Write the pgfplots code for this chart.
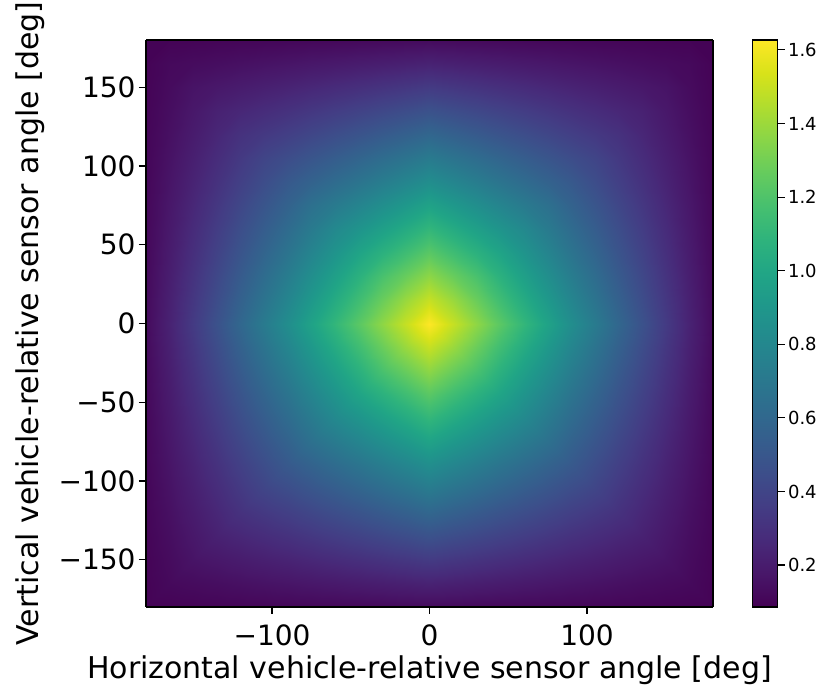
\documentclass[border=0pt]{standalone}
\usepackage{fontspec}
\setmainfont{DejaVu Sans}
\usepackage{pgfplots}
\usepackage{pgfplotstable}
\pgfplotsset{compat=1.18}

% One quadrant (x >= 0, y >= 0) of the response map; the field is symmetric
% in both angles, so the other three quadrants are its mirror images.
\pgfplotstableread{
x y v
0 0 1.627
15 0 1.496
30 0 1.365
45 0 1.234
60 0 1.103
75 0 0.972
90 0 0.841
105 0 0.718
120 0 0.595
135 0 0.471
150 0 0.348
165 0 0.232
180 0 0.125
0 15 1.496
15 15 1.394
30 15 1.273
45 15 1.151
60 15 1.030
75 15 0.908
90 15 0.787
105 15 0.672
120 15 0.558
135 15 0.443
150 15 0.329
165 15 0.222
180 15 0.122
0 30 1.365
15 30 1.273
30 30 1.180
45 30 1.068
60 30 0.956
75 30 0.844
90 30 0.732
105 30 0.627
120 30 0.521
135 30 0.416
150 30 0.310
165 30 0.211
180 30 0.119
0 45 1.234
15 45 1.151
30 45 1.068
45 45 0.985
60 45 0.883
75 45 0.780
90 45 0.677
105 45 0.581
120 45 0.484
135 45 0.388
150 45 0.291
165 45 0.201
180 45 0.116
0 60 1.103
15 60 1.030
30 60 0.956
45 60 0.883
60 60 0.809
75 60 0.716
90 60 0.623
105 60 0.535
120 60 0.448
135 60 0.360
150 60 0.272
165 60 0.190
180 60 0.113
0 75 0.972
15 75 0.908
30 75 0.844
45 75 0.780
60 75 0.716
75 75 0.652
90 75 0.568
105 75 0.490
120 75 0.411
135 75 0.332
150 75 0.253
165 75 0.180
180 75 0.111
0 90 0.841
15 90 0.787
30 90 0.732
45 90 0.677
60 90 0.623
75 90 0.568
90 90 0.514
105 90 0.444
120 90 0.374
135 90 0.304
150 90 0.234
165 90 0.169
180 90 0.108
0 105 0.718
15 105 0.672
30 105 0.627
45 105 0.581
60 105 0.535
75 105 0.490
90 105 0.444
105 105 0.401
120 105 0.340
135 105 0.278
150 105 0.217
165 105 0.159
180 105 0.105
0 120 0.595
15 120 0.558
30 120 0.521
45 120 0.484
60 120 0.448
75 120 0.411
90 120 0.374
105 120 0.340
120 120 0.305
135 120 0.252
150 120 0.199
165 120 0.149
180 120 0.103
0 135 0.471
15 135 0.443
30 135 0.416
45 135 0.388
60 135 0.360
75 135 0.332
90 135 0.304
105 135 0.278
120 135 0.252
135 135 0.226
150 135 0.181
165 135 0.139
180 135 0.100
0 150 0.348
15 150 0.329
30 150 0.310
45 150 0.291
60 150 0.272
75 150 0.253
90 150 0.234
105 150 0.217
120 150 0.199
135 150 0.181
150 150 0.163
165 150 0.129
180 150 0.097
0 165 0.232
15 165 0.222
30 165 0.211
45 165 0.201
60 165 0.190
75 165 0.180
90 165 0.169
105 165 0.159
120 165 0.149
135 165 0.139
150 165 0.129
165 165 0.120
180 165 0.095
0 180 0.125
15 180 0.122
30 180 0.119
45 180 0.116
60 180 0.113
75 180 0.111
90 180 0.108
105 180 0.105
120 180 0.103
135 180 0.100
150 180 0.097
165 180 0.095
180 180 0.093
}\quadrant

\begin{document}
\begin{tikzpicture}
\useasboundingbox (0pt,0pt) rectangle (832pt,692pt);
\begin{axis}[
  at={(146pt,85pt)}, anchor=south west,
  scale only axis, width=567pt, height=567pt,
  view={0}{90},
  xmin=-180, xmax=180, ymin=-180, ymax=180,
  xtick={-100,0,100}, xticklabels={−100,0,100},
  ytick={-150,-100,-50,0,50,100,150},
  yticklabels={−150,−100,−50,0,50,100,150},
  tick align=outside, major tick length=7pt,
  xtick pos=left, ytick pos=left,
  every tick/.style={black, line width=1.1pt},
  axis line style={line width=1.1pt},
  /pgf/number format/assume math mode=true,
  tick label style={font=\fontsize{28}{32}\selectfont},
  xticklabel style={yshift=-7pt},
  label style={font=\fontsize{30}{34}\selectfont},
  xlabel={Horizontal vehicle-relative sensor angle [deg]},
  ylabel={Vertical vehicle-relative sensor angle [deg]},
  xlabel style={at={(axis description cs:0.5,-0.111)}, anchor=center},
  ylabel style={at={(axis description cs:-0.205,0.5)}, anchor=center},
  colormap name=viridis,
  point meta min=0.086, point meta max=1.627,
  colorbar,
  colorbar/width=25pt,
  colorbar style={
    at={(parent axis.north east)}, anchor=north west, xshift=31pt,
    ytick={0.2,0.4,0.6,0.8,1.0,1.2,1.4,1.6},
    yticklabel style={font=\fontsize{18}{21}\selectfont,
      /pgf/number format/.cd, fixed, fixed zerofill, precision=1,
      assume math mode=true},
    ytick pos=right, tick align=outside, major tick length=7pt,
    every tick/.style={black, line width=1.1pt},
    axis line style={line width=1.1pt},
  },
]
\addplot3[surf, shader=interp, mesh/cols=13]
  table[x=x, y=y, z=v, meta=v] {\quadrant};
\addplot3[surf, shader=interp, mesh/cols=13]
  table[x expr=-\thisrow{x}, y=y, z=v, meta=v] {\quadrant};
\addplot3[surf, shader=interp, mesh/cols=13]
  table[x=x, y expr=-\thisrow{y}, z=v, meta=v] {\quadrant};
\addplot3[surf, shader=interp, mesh/cols=13]
  table[x expr=-\thisrow{x}, y expr=-\thisrow{y}, z=v, meta=v] {\quadrant};
\end{axis}
\end{tikzpicture}
\end{document}
